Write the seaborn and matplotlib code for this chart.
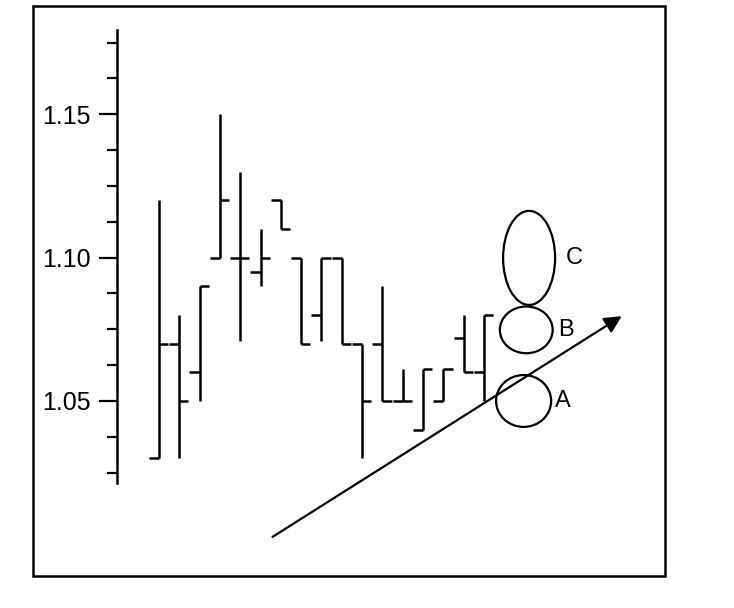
import numpy as np
import pandas as pd
import matplotlib
matplotlib.use('Agg')
import matplotlib.pyplot as plt
import seaborn as sns
from matplotlib.patches import Ellipse, Rectangle

# OHLC bars
bars = list(range(17))
opens = [1.030, 1.070, 1.060, 1.100, 1.100, 1.095, 1.120, 1.100, 1.080, 1.100,
         1.070, 1.070, 1.050, 1.040, 1.050, 1.072, 1.060]
highs = [1.120, 1.080, 1.090, 1.150, 1.130, 1.110, 1.120, 1.100, 1.100, 1.100,
         1.070, 1.090, 1.061, 1.061, 1.061, 1.080, 1.080]
lows = [1.030, 1.030, 1.050, 1.100, 1.071, 1.090, 1.110, 1.070, 1.071, 1.070,
        1.030, 1.050, 1.050, 1.040, 1.050, 1.060, 1.050]
closes = [1.070, 1.050, 1.090, 1.120, 1.100, 1.100, 1.110, 1.070, 1.100, 1.070,
          1.050, 1.050, 1.050, 1.061, 1.061, 1.060, 1.080]

# y axis ticks
major_ticks = [1.05, 1.10, 1.15]
major_labels = ['1.05', '1.10', '1.15']
minor_ticks = [1.025, 1.0375, 1.0625, 1.075, 1.0875, 1.1125, 1.125, 1.1375,
               1.1625, 1.175]

# zones A, B, C (centre x, centre y, width, height) and their labels
zone_names = ['A', 'B', 'C']
zone_x = [17.95, 18.08, 18.22]
zone_y = [1.0500, 1.0748, 1.0999]
zone_w = [2.71, 2.60, 2.56]
zone_h = [0.0181, 0.0163, 0.0328]
label_x = [19.5, 19.65, 20.0]

# trend arrow (start -> end)
arrow_x = [5.59, 22.78]
arrow_y = [1.0026, 1.0796]

df = pd.DataFrame({'bar': bars, 'open': opens, 'high': highs,
                   'low': lows, 'close': closes})

sns.set_theme(style='white')
plt.rcParams['font.family'] = ['Liberation Sans', 'DejaVu Sans']

fig = plt.figure(figsize=(7.34, 6.08), dpi=100)
ax = fig.add_axes([0.159, 0.2056, 0.906 - 0.159, 0.9507 - 0.2056])

lw = 1.8
ax.vlines(df['bar'], df['low'], df['high'], color='black', lw=lw)
ax.hlines(df['open'], df['bar'] - 0.5, df['bar'], color='black', lw=lw)
ax.hlines(df['close'], df['bar'], df['bar'] + 0.45, color='black', lw=lw)

for name, cx, cy, w, h, lx in zip(zone_names, zone_x, zone_y, zone_w, zone_h, label_x):
    ax.add_patch(Ellipse((cx, cy), w, h, fill=False, ec='black', lw=1.6))
    ax.text(lx, cy, name, ha='left', va='center', fontsize=17, color='black')

ax.annotate('', xy=(arrow_x[1], arrow_y[1]), xytext=(arrow_x[0], arrow_y[0]),
            arrowprops=dict(arrowstyle='-|>', color='black', lw=1.6,
                            mutation_scale=26, shrinkA=0, shrinkB=0),
            annotation_clip=False)

ax.set_xlim(-2.08, 24.91)
ax.set_ylim(1.0214, 1.1794)
ax.set_xticks([])
ax.set_yticks(major_ticks)
ax.set_yticklabels(major_labels)
ax.set_yticks(minor_ticks, minor=True)
ax.tick_params(axis='y', which='major', left=True, length=13, width=1.6,
               color='black', pad=6, labelsize=18, labelcolor='black')
ax.tick_params(axis='y', which='minor', left=True, length=7.5, width=1.6,
               color='black')

sns.despine(ax=ax, top=True, right=True, bottom=True, left=False)
ax.spines['left'].set_color('black')
ax.spines['left'].set_linewidth(1.8)
ax.set_facecolor('none')

# outer frame around the whole picture
fig.patches.append(Rectangle((0.045, 0.0526), 0.861, 0.9374,
                             transform=fig.transFigure, fill=False,
                             ec='black', lw=1.8))

fig.savefig('out.png', dpi=100, facecolor='white')
